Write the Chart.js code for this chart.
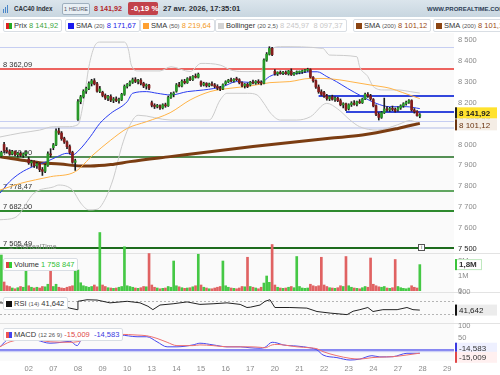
<!DOCTYPE html>
<html>
<head>
<meta charset="utf-8">
<script src="https://cdn.jsdelivr.net/npm/chart.js@4.4.1/dist/chart.umd.min.js"></script>
<style>
  body { margin: 0; background: #fff; font-family: "Liberation Sans", Arial, sans-serif; }
  #wrap { position: relative; width: 500px; height: 375px; overflow: hidden; background: #fff; }
  canvas { position: absolute; left: 0; }
  .abs { position: absolute; white-space: nowrap; }
  .panel { position: absolute; left: 0; width: 454px; background: #fafafa; }
  .sep { position: absolute; left: 0; width: 500px; height: 1px; background: #e3e3e3; }
  #hdr { position: absolute; left: 0; top: 0; width: 500px; height: 17px;
         background: linear-gradient(#dbe5ec, #c8d6e0); }
  #hdr .abs { top: 4px; font-size: 8px; line-height: 9px; color: #2b2f36; font-weight: bold; transform-origin: 0 0; }
  .box { position: absolute; height: 11px; line-height: 11px; font-size: 7.5px; color: #333;
         background: #fff; border: 1px solid #d9dee4; border-radius: 2px; padding: 0 3px 0 2px; white-space: nowrap; }
  .ico { display: inline-block; width: 6px; height: 6px; margin-right: 2px; vertical-align: -0.5px; }
  .sm { font-size: 6px; color: #555; }
</style>
</head>
<body>
<div id="wrap">
  <!-- panel backgrounds -->
  <div class="panel" style="top:33px;height:220px"></div>
  <div class="panel" style="top:254px;height:38px"></div>
  <div class="panel" style="top:293px;height:30px"></div>
  <div class="panel" style="top:324px;height:37px"></div>
  <div class="sep" style="top:253px"></div>
  <div class="sep" style="top:292px"></div>
  <div class="sep" style="top:323px"></div>

  <canvas id="cPrice" width="500" height="256" style="top:0"></canvas>
  <canvas id="cVol" width="500" height="96" style="top:200px"></canvas>
  <canvas id="cRsi" width="500" height="40" style="top:286px"></canvas>
  <canvas id="cMacd" width="500" height="57" style="top:318px"></canvas>

  <!-- header -->
  <div id="hdr">
    <div class="abs" style="left:3px;top:5px">
      <span style="display:inline-block;width:1px;height:4px;background:#4a86c8;margin-right:1px"></span><span style="display:inline-block;width:1px;height:6px;background:#4a86c8;margin-right:1px"></span><span style="display:inline-block;width:1px;height:8px;background:#4a86c8"></span>
    </div>
    <div class="abs" style="left:14px;transform:scaleX(0.78)">CAC40 Index</div>
    <div class="abs" style="left:62px;top:3px;height:10px;line-height:10px;width:24px;padding:0 1px;text-align:center;border:1px solid #9fb0bf;border-radius:2px;background:#e8eff4;font-weight:normal;font-size:5.5px;color:#556">1 HEURE</div>
    <div class="abs" style="left:94px;color:#b3262a;transform:scaleX(0.9)">8 141,92</div>
    <div class="abs" style="left:128px;top:2px;height:13px;line-height:13px;width:24px;padding:0 3px;text-align:center;background:#c2424a;color:#fff;border-radius:2px">-0,19 %</div>
    <div class="abs" style="left:163px;transform:scaleX(0.95)">27 avr. 2026, 17:35:01</div>
  </div>
  <div class="abs" style="left:427px;top:6px;font-size:6px;font-weight:bold;color:#2d3d55">WWW.PROREALTIME.COM</div>

  <!-- indicator legend row -->
  <div class="abs" style="left:0;top:17px;width:500px;height:16px;background:#fff"></div>
  <div class="box" style="left:3px;top:19px"><span class="ico" style="background:linear-gradient(90deg,#d22 50%,#2a2 50%)"></span>Prix <span style="color:#3aa53a">8 141,92</span></div>
  <div class="box" style="left:65px;top:19px"><span class="ico" style="background:#1a1aee"></span>SMA <span class="sm">(20)</span> <span style="color:#2323e6">8 171,67</span></div>
  <div class="box" style="left:140px;top:19px"><span class="ico" style="background:#ffa030"></span>SMA <span class="sm">(50)</span> <span style="color:#f39a1e">8 219,64</span></div>
  <div class="box" style="left:215px;top:19px"><span class="ico" style="background:#d4d4d4"></span>Bollinger <span class="sm">(20 2,5)</span> <span style="color:#c8c8c8">8 245,97 &nbsp;8 097,37</span></div>
  <div class="box" style="left:353px;top:19px"><span class="ico" style="background:#8b4513"></span>SMA <span class="sm">(200)</span> <span style="color:#9a4b16">8 101,12</span></div>
  <div class="box" style="left:433px;top:19px"><span class="ico" style="background:#8b4513"></span>SMA <span class="sm">(200)</span> <span style="color:#9a4b16">8 101,12</span></div>

  <!-- panel legends -->
  <div class="abs" style="left:8px;top:243px;font-size:7px;color:#888">&#x22A5; ProRealTime</div>
  <div class="abs" style="left:418px;top:244px;width:5px;height:5px;border:1px solid #555;background:#fff;font-size:5px;line-height:5px;text-align:center;color:#333">i</div>
  <div class="box" style="left:3px;top:258px"><span class="ico" style="background:linear-gradient(90deg,#d44 50%,#3c3 50%)"></span>Volume <span style="color:#35c035">1 758 847</span></div>
  <div class="box" style="left:3px;top:297px"><span class="ico" style="background:#111"></span>RSI <span class="sm">(14)</span> 41,642</div>
  <div class="box" style="left:3px;top:328px"><span class="ico" style="background:linear-gradient(90deg,#e55 50%,#44e 50%)"></span>MACD <span class="sm">(12 26 9)</span> <span style="color:#e04848">-15,009</span> &nbsp;<span style="color:#3a3ae0">-14,583</span></div>
</div>

<script>
// ---- data (hourly bars, 31 Mar 17:00 -> 27 Apr 17:00) ----
var open = [
  7945,
  8000, 7972, 7966, 7955, 7966, 7952, 7958, 7948, 7955,
  7930, 7912, 7918, 7898, 7908, 7880, 7872, 7900, 7955,
  7985, 7998, 8065, 8055, 8028, 8012, 7990, 7962, 7915,
  8120, 8205, 8228, 8255, 8268, 8292, 8305, 8290, 8255,
  8250, 8235, 8222, 8230, 8212, 8218, 8210, 8215, 8240,
  8278, 8288, 8298, 8310, 8302, 8308, 8292, 8280, 8284,
  8200, 8188, 8182, 8186, 8175, 8190, 8185, 8225, 8240,
  8255, 8285, 8280, 8302, 8296, 8315, 8310, 8326, 8322,
  8300, 8285, 8292, 8282, 8290, 8285, 8278, 8270, 8266,
  8290, 8300, 8308, 8304, 8312, 8310, 8296, 8282, 8288,
  8285, 8298, 8294, 8302, 8296, 8293, 8404, 8432, 8460,
  8350, 8338, 8345, 8340, 8346, 8338, 8352, 8334, 8342,
  8345, 8348, 8352, 8355, 8358, 8322, 8305, 8275, 8252,
  8248, 8232, 8220, 8228, 8216, 8222, 8210, 8190, 8195,
  8172, 8190, 8198, 8192, 8205, 8200, 8218, 8240, 8232,
  8215, 8185, 8145, 8130, 8152, 8170, 8165, 8172, 8168,
  8165, 8175, 8185, 8195, 8202, 8210, 8165, 8158, 8136
];
var high = [
  7968,
  8010, 7985, 7975, 7972, 7970, 7962, 7965, 7960, 7968,
  7940, 7925, 7922, 7915, 7912, 7890, 7905, 7965, 7980,
  8005, 8075, 8078, 8062, 8035, 8018, 7998, 7968, 7930,
  8215, 8235, 8262, 8275, 8300, 8312, 8315, 8298, 8278,
  8255, 8242, 8235, 8238, 8225, 8228, 8222, 8245, 8285,
  8292, 8305, 8318, 8320, 8312, 8315, 8298, 8290, 8288,
  8208, 8195, 8192, 8190, 8195, 8198, 8232, 8248, 8252,
  8292, 8298, 8310, 8312, 8320, 8325, 8330, 8338, 8342,
  8305, 8298, 8296, 8294, 8300, 8292, 8286, 8278, 8290,
  8305, 8312, 8318, 8316, 8322, 8315, 8300, 8292, 8294,
  8302, 8308, 8306, 8310, 8305, 8410, 8440, 8468, 8465,
  8358, 8348, 8352, 8350, 8352, 8355, 8362, 8345, 8352,
  8352, 8356, 8360, 8365, 8362, 8325, 8310, 8285, 8262,
  8255, 8240, 8232, 8236, 8228, 8226, 8218, 8200, 8198,
  8195, 8205, 8210, 8208, 8215, 8222, 8246, 8248, 8240,
  8220, 8190, 8152, 8158, 8222, 8182, 8178, 8184, 8175,
  8180, 8190, 8200, 8208, 8215, 8214, 8172, 8162, 8148
];
var low = [
  7940,
  7960, 7958, 7948, 7950, 7945, 7940, 7942, 7938, 7946,
  7905, 7895, 7890, 7885, 7870, 7852, 7865, 7895, 7940,
  7975, 7995, 8048, 8020, 8005, 7980, 7955, 7910, 7876,
  8115, 8195, 8222, 8245, 8262, 8280, 8285, 8250, 8248,
  8228, 8215, 8210, 8205, 8200, 8205, 8198, 8210, 8235,
  8270, 8280, 8292, 8296, 8290, 8285, 8272, 8265, 8262,
  8180, 8172, 8175, 8168, 8170, 8178, 8182, 8220, 8228,
  8250, 8275, 8276, 8290, 8292, 8305, 8306, 8318, 8318,
  8278, 8280, 8275, 8276, 8280, 8272, 8262, 8258, 8262,
  8285, 8296, 8300, 8298, 8305, 8290, 8275, 8270, 8272,
  8280, 8290, 8288, 8290, 8285, 8290, 8398, 8428, 8425,
  8332, 8330, 8336, 8334, 8335, 8332, 8330, 8330, 8336,
  8338, 8340, 8345, 8350, 8318, 8298, 8268, 8245, 8235,
  8225, 8212, 8210, 8212, 8206, 8205, 8185, 8175, 8162,
  8165, 8182, 8188, 8185, 8196, 8196, 8214, 8225, 8212,
  8180, 8138, 8117, 8125, 8148, 8160, 8158, 8162, 8155,
  8160, 8168, 8178, 8188, 8196, 8160, 8150, 8135, 8128
];
var close = [
  7962,
  7972, 7966, 7955, 7966, 7952, 7958, 7948, 7955, 7962,
  7912, 7918, 7898, 7908, 7880, 7872, 7900, 7955, 7950,
  7998, 8065, 8055, 8028, 8012, 7990, 7962, 7915, 7922,
  8205, 8228, 8255, 8268, 8292, 8305, 8290, 8255, 8266,
  8235, 8222, 8230, 8212, 8218, 8210, 8215, 8240, 8278,
  8288, 8298, 8310, 8302, 8308, 8292, 8280, 8284, 8270,
  8188, 8182, 8186, 8175, 8190, 8185, 8225, 8240, 8246,
  8285, 8280, 8302, 8296, 8315, 8310, 8326, 8322, 8336,
  8285, 8292, 8282, 8290, 8285, 8278, 8270, 8266, 8286,
  8300, 8308, 8304, 8312, 8310, 8296, 8282, 8288, 8278,
  8298, 8294, 8302, 8296, 8293, 8404, 8432, 8460, 8430,
  8338, 8345, 8340, 8346, 8338, 8352, 8334, 8342, 8348,
  8348, 8352, 8355, 8358, 8322, 8305, 8275, 8252, 8240,
  8232, 8220, 8228, 8216, 8222, 8210, 8190, 8195, 8168,
  8190, 8198, 8192, 8205, 8200, 8218, 8240, 8232, 8218,
  8185, 8145, 8130, 8152, 8170, 8165, 8172, 8168, 8160,
  8175, 8185, 8195, 8202, 8210, 8165, 8158, 8138, 8141.92
];
// volume in millions
var volume = [
  2.4,
  0.6, 0.35, 0.3, 0.2, 0.15, 0.22, 0.3, 0.25, 1.6,
  0.35, 0.25, 0.2, 0.25, 0.2, 0.3, 0.28, 0.45, 1.4,
  0.3, 0.45, 0.25, 0.2, 0.18, 0.25, 0.3, 0.35, 1.4,
  1.4, 0.55, 0.35, 0.3, 0.25, 0.3, 0.4, 0.28, 3.9,
  0.4, 0.3, 0.22, 0.2, 0.18, 0.2, 0.25, 0.3, 2.95,
  0.35, 0.3, 0.25, 0.2, 0.18, 0.22, 0.3, 0.28, 2.5,
  0.4, 0.25, 0.2, 0.15, 0.18, 0.2, 0.3, 0.25, 2.0,
  0.35, 0.28, 0.22, 0.18, 0.2, 0.22, 0.28, 0.35, 2.45,
  0.4, 0.25, 0.2, 0.15, 0.15, 0.2, 0.25, 0.3, 2.0,
  0.35, 0.25, 0.2, 0.18, 0.15, 0.2, 0.3, 0.28, 2.25,
  0.3, 0.25, 0.2, 0.15, 0.25, 0.53, 1.0, 0.58, 3.1,
  0.4, 0.25, 0.2, 0.18, 0.2, 0.25, 0.3, 0.22, 2.3,
  0.3, 0.2, 0.18, 0.2, 0.45, 0.35, 0.3, 0.35, 2.25,
  0.4, 0.3, 0.22, 0.2, 0.18, 0.22, 0.35, 0.3, 2.3,
  0.35, 0.25, 0.2, 0.18, 0.15, 0.22, 0.3, 0.25, 2.2,
  0.45, 0.35, 0.28, 0.25, 0.3, 0.2, 0.18, 0.22, 2.1,
  0.3, 0.22, 0.18, 0.15, 0.2, 0.35, 0.25, 0.2, 1.76
];

// indicator curves as [bar index, value]
var sma20 = [[-0.5, 7767], [3, 7822], [7, 7864], [11.5, 7894], [16.5, 7918], [20.5, 7942], [24, 7958], [26, 7950],
  [28.5, 7974], [32.5, 8037], [36, 8101], [40, 8149], [46, 8205], [48, 8245], [53, 8253], [57, 8245], [62, 8237],
  [68, 8253], [74, 8261], [81, 8277], [86, 8301], [91, 8297], [95, 8297], [98, 8325], [102, 8340], [108, 8340],
  [113, 8348], [115.5, 8348], [119, 8325], [122.5, 8301], [126.5, 8269], [132, 8229], [137, 8197], [142, 8181],
  [148, 8181], [153, 8171.67]];
var sma50 = [[-0.5, 7782], [7, 7814], [18, 7846], [27, 7870], [33.5, 7950], [40, 8021], [46, 8077], [53, 8109],
  [61.7, 8152], [69, 8213], [76.3, 8253], [83.6, 8269], [91, 8280], [98.2, 8296], [105.5, 8301], [112.8, 8316],
  [117.6, 8316], [123.8, 8309], [127.5, 8301], [134.8, 8285], [142.1, 8269], [146.8, 8248], [153, 8219.64]];
var sma200 = [[-0.5, 7942], [7, 7926], [14, 7913], [21.5, 7907], [29, 7897], [32.5, 7897], [40, 7904], [47, 7918],
  [61.7, 7942], [92, 7990], [120, 8030], [132, 8045], [145, 8077], [153, 8101.12]];
var bollUp = [[-0.5, 8036], [7, 8055], [14, 8069], [19, 8085], [24, 8085], [28, 8095], [30, 8200], [32, 8372],
  [34, 8468], [36, 8490], [45, 8490], [46.5, 8452], [47.5, 8380], [50, 8352], [58, 8352], [62, 8372], [69, 8349],
  [73, 8388], [80, 8380], [84, 8356], [88, 8349], [95, 8349], [96, 8388], [98.5, 8452], [102, 8468], [117.5, 8460],
  [120, 8428], [130, 8420], [131, 8372], [134, 8325], [136, 8277], [140, 8261], [145, 8261], [149.5, 8253], [153, 8245.97]];
var bollDn = [[-0.5, 7640], [5, 7650], [12, 7768], [19, 7797], [21, 7806], [26, 7782], [29, 7720], [32, 7687],
  [35, 7690], [38, 7740], [41, 7840], [44, 7990], [46.5, 8080], [50, 8140], [62, 8117], [76, 8117], [80, 8213],
  [82.5, 8245], [90, 8245], [93.5, 8237], [96, 8197], [98.5, 8149], [102, 8117], [108, 8117], [113, 8133],
  [119, 8197], [123, 8170], [127.5, 8117], [131, 8085], [137.5, 8069], [145, 8095], [149.5, 8115], [153, 8097.37]];
var rsi = [[-0.5, 65], [22.5, 54], [25, 48], [27.7, 43], [28, 70], [31.3, 75], [35, 74], [39.7, 65], [46, 70],
  [50.7, 65], [53.6, 54], [55.4, 43], [58, 58], [62.8, 62], [67.9, 68], [72.6, 60], [77.4, 62], [82.5, 65],
  [87.3, 60], [89.8, 50], [91, 51], [94.6, 58], [96.4, 70], [98.2, 75], [100, 50], [105.5, 50], [111.7, 48],
  [115.4, 37], [120.2, 32], [126.4, 27], [128.6, 38], [131.1, 43], [134, 50], [135.9, 37], [139.5, 43],
  [144.7, 43], [148.3, 50], [150.5, 43], [153, 41.642]];
var macd = [[-0.5, 12], [3.2, 47], [10.5, 47], [13, 40], [17.8, 27], [21.4, 30], [25.1, 35], [27.7, 17], [29.5, 48],
  [31.3, 61], [43.4, 61], [49.6, 54], [53.2, 54], [56.9, 33], [60.6, 12], [64.2, 12], [70.1, 20], [72.6, 27],
  [77.4, 20], [82.5, 12], [87.3, 12], [90.9, 8], [94.6, 6], [96.4, 10], [99, 31], [100.8, 28], [103, 20],
  [108.1, 15], [112.8, 8], [115.4, -1], [117.6, -22], [122.7, -33], [127.5, -43], [131.1, -39], [135.5, -25],
  [138.4, -30], [143.2, -29], [148.3, -15], [152, -15], [153, -14.583]];
var signal = [[-0.5, 12], [3.2, 33], [10.5, 45], [17.8, 33], [25.1, 31], [27.7, 33], [31.3, 45], [43.4, 64],
  [49.6, 61], [53.2, 58], [56.9, 47], [60.6, 31], [64.2, 17], [70.1, 17], [72.6, 20], [77.4, 17], [82.5, 12],
  [87.3, 12], [90.9, 12], [94.6, 10], [96.4, 8], [99, 20], [100.8, 22], [103, 20], [108.1, 12], [112.8, 8],
  [115.4, 4], [117.6, -8], [122.7, -25], [127.5, -36], [131.1, -39], [135.5, -33], [138.4, -31], [143.2, -29],
  [148.3, -22], [152, -16], [153, -15.009]];

// day labels along the bottom, at the first bar of each session
var dayTicks = [10, 19, 28, 37, 46, 55, 64, 73, 82, 91, 100, 109, 118, 127, 136, 145, 154, 163];
var dayLabels = ['02', '07', '08', '09', '10', '13', '14', '15', '16', '17', '20', '21', '22', '23', '24', '27', '28', '29'];

// horizontal price levels drawn on the chart
var levelValues = [8468, 8362.09, 8232, 8157, 8112, 8077, 7940, 7778.47, 7682, 7505.49];
var levelLabels = ['', '8 362,09', '', '', '', '', '7 940,00', '7 778,47', '7 682,00', '7 505,49'];

// ---- styles ----
var levelStyles = [
  { color: '#c6cef2', width: 1 },
  { color: '#e8312b', width: 1.5 },
  { color: '#3346dc', width: 2, from: 116 },
  { color: '#3346dc', width: 2, from: 126 },
  { color: '#c6cef2', width: 1 },
  { color: '#d6dbf0', width: 2 },
  { color: '#1d6b1d', width: 1.5 },
  { color: '#2e8a2e', width: 1.5 },
  { color: '#2e8a2e', width: 2 },
  { color: '#1d6b1d', width: 2 }
];
var UP = '#2a9a2a', DOWN = '#851c1c';
var AXIS_W = 46;
var FONT = '"Liberation Sans", Arial, sans-serif';

Chart.defaults.font.family = FONT;
Chart.defaults.font.size = 7.5;
Chart.defaults.color = '#8a8a8a';
Chart.defaults.animation = false;

function fmt(v) {
  return String(v).replace(/\B(?=(\d{3})+(?!\d))/g, ' ');
}
function pts(arr) {
  return arr.map(function (p) { return { x: p[0], y: p[1] }; });
}
function xScale(show) {
  return {
    type: 'linear', min: -0.5, max: 165.5, offset: false, display: show,
    grid: { display: false, offset: false, drawTicks: false }, border: { display: false },
    afterBuildTicks: function (s) { s.ticks = dayTicks.map(function (v) { return { value: v }; }); },
    afterFit: function (s) {
      if (show) s.height = 14;
      s.paddingLeft = 0; s.paddingRight = 0;
    },
    ticks: {
      autoSkip: false, maxRotation: 0, padding: 3, color: '#8a8a8a',
      callback: function (v, i) { return dayLabels[i]; }
    }
  };
}
function yScale(min, max, tickList, cb, darkTick) {
  return {
    type: 'linear', position: 'right', min: min, max: max,
    grid: { display: false, drawTicks: false }, border: { display: false },
    afterFit: function (s) {
      // fixed axis column, and no extra room above/below for labels
      s.width = AXIS_W;
      s.paddingTop = 0; s.paddingBottom = 0;
    },
    afterBuildTicks: function (s) { s.ticks = tickList.map(function (v) { return { value: v }; }); },
    ticks: {
      padding: 4, callback: cb,
      color: function (c) { return c.tick && c.tick.value === darkTick ? '#222' : '#8a8a8a'; }
    }
  };
}
function baseOptions(xs, ys, pad) {
  return {
    responsive: false, devicePixelRatio: 1, events: [],
    layout: { autoPadding: false, padding: pad || 0 },
    plugins: { legend: { display: false }, tooltip: { enabled: false } },
    scales: { x: xs, y: ys }
  };
}
function badge(ctx, y, text, bg, bar, fg, bold) {
  ctx.save();
  ctx.fillStyle = bg;
  ctx.fillRect(455, y - 5.5, 42, 11);
  ctx.fillStyle = bar;
  ctx.fillRect(455, y - 5.5, 2, 11);
  ctx.font = (bold ? 'bold ' : '') + '8px ' + FONT;
  ctx.fillStyle = fg;
  ctx.textBaseline = 'middle';
  ctx.fillText(text, 459, y + 0.5);
  ctx.restore();
}

// ---- price panel ----
var priceTicks = [7500, 7600, 7700, 7800, 7900, 8000, 8100, 8200, 8300, 8400, 8500, 8600];

var levelsPlugin = {
  id: 'levels',
  beforeDatasetsDraw: function (chart) {
    var ctx = chart.ctx, a = chart.chartArea, x = chart.scales.x, y = chart.scales.y;
    ctx.save();
    levelValues.forEach(function (v, i) {
      var st = levelStyles[i];
      var py = Math.round(y.getPixelForValue(v)) + (st.width === 1 ? 0.5 : 0);
      var x0 = st.from !== undefined ? x.getPixelForValue(st.from) : a.left;
      ctx.strokeStyle = st.color;
      ctx.lineWidth = st.width;
      ctx.beginPath();
      ctx.moveTo(x0, py);
      ctx.lineTo(a.right, py);
      ctx.stroke();
      if (levelLabels[i]) {
        ctx.font = '7.5px ' + FONT;
        ctx.fillStyle = '#333';
        ctx.textBaseline = 'alphabetic';
        ctx.fillText(levelLabels[i], 3, py - 2.5);
      }
    });
    ctx.restore();
  },
  afterDraw: function (chart) {
    var ctx = chart.ctx, y = chart.scales.y;
    var yl = y.getPixelForValue(close[close.length - 1]) - 2;
    badge(ctx, yl + 7, '8 097,37', '#f4f4f4', '#ccc', '#c4c4c4', false);
    badge(ctx, yl + 12, '8 101,12', '#f4ede5', '#6b3410', '#6b3410', false);
    badge(ctx, yl, '8 141,92', '#ffe22e', '#222', '#1a1a1a', true);
  }
};

new Chart(document.getElementById('cPrice'), {
  type: 'bar',
  data: {
    datasets: [
      { type: 'line', data: pts(bollUp), borderColor: '#cbcbcb', borderWidth: 1, pointRadius: 0, cubicInterpolationMode: 'monotone', order: 5 },
      { type: 'line', data: pts(bollDn), borderColor: '#cbcbcb', borderWidth: 1, pointRadius: 0, cubicInterpolationMode: 'monotone', order: 5 },
      { type: 'line', data: pts(sma200), borderColor: '#7b3d12', borderWidth: 3, pointRadius: 0, cubicInterpolationMode: 'monotone', order: 4 },
      { type: 'line', data: pts(sma50), borderColor: '#ffb347', borderWidth: 1, pointRadius: 0, cubicInterpolationMode: 'monotone', order: 3 },
      { type: 'line', data: pts(sma20), borderColor: '#2a3cf0', borderWidth: 1, pointRadius: 0, cubicInterpolationMode: 'monotone', order: 3 },
      {
        data: close.map(function (c, i) { return { x: i, y: [low[i], high[i]] }; }),
        backgroundColor: '#1c1c1c', barThickness: 1, grouped: false, order: 2
      },
      {
        data: close.map(function (c, i) { return { x: i, y: [open[i], c] }; }),
        backgroundColor: close.map(function (c, i) { return c >= open[i] ? UP : DOWN; }),
        barThickness: 2, minBarLength: 1, grouped: false, order: 1
      }
    ]
  },
  options: baseOptions(xScale(false), yScale(7466.5, 8691.4, priceTicks, fmt, 7500)),
  plugins: [levelsPlugin]
});

// ---- volume panel ----
new Chart(document.getElementById('cVol'), {
  type: 'bar',
  data: {
    datasets: [{
      data: volume.map(function (v, i) { return { x: i, y: v }; }),
      backgroundColor: close.map(function (c, i) { return c >= open[i] ? '#45c845' : '#e06262'; }),
      barThickness: 2, grouped: false
    }]
  },
  options: baseOptions(xScale(false), yScale(0, 6.07, [0, 1, 2], function (v) { return v === 0 ? '0' : v + 'M'; }), { bottom: 5 }),
  plugins: [{
    id: 'volBadge',
    afterDraw: function (chart) {
      var ctx = chart.ctx;
      var py = chart.scales.y.getPixelForValue(volume[volume.length - 1]);
      ctx.save();
      ctx.fillStyle = '#fff';
      ctx.strokeStyle = '#bfe8bf';
      ctx.fillRect(455, py - 5.5, 27, 11);
      ctx.strokeRect(455.5, py - 5, 26, 10);
      ctx.fillStyle = '#3bc43b';
      ctx.fillRect(455, py - 5.5, 2, 11);
      ctx.font = 'bold 8px ' + FONT;
      ctx.fillStyle = '#333';
      ctx.textBaseline = 'middle';
      ctx.fillText('1,8M', 459, py + 0.5);
      ctx.restore();
    }
  }]
});

// ---- RSI panel ----
new Chart(document.getElementById('cRsi'), {
  type: 'line',
  data: {
    datasets: [{ data: pts(rsi), borderColor: '#222', borderWidth: 1, pointRadius: 0 }]
  },
  options: baseOptions(xScale(false), yScale(0, 100, [100], function (v) { return String(v); }), { top: 6, bottom: 3 }),
  plugins: [{
    id: 'rsiGuides',
    beforeDatasetsDraw: function (chart) {
      var ctx = chart.ctx, a = chart.chartArea, y = chart.scales.y;
      ctx.save();
      ctx.strokeStyle = '#b5b5b5';
      ctx.setLineDash([2, 2]);
      [70, 30].forEach(function (v) {
        var py = Math.round(y.getPixelForValue(v)) + 0.5;
        ctx.beginPath();
        ctx.moveTo(a.left, py);
        ctx.lineTo(a.right, py);
        ctx.stroke();
      });
      ctx.restore();
    },
    afterDraw: function (chart) {
      var py = chart.scales.y.getPixelForValue(rsi[rsi.length - 1][1]);
      badge(chart.ctx, py, '41,642', '#ececec', '#111', '#222', false);
    }
  }]
});

// ---- MACD panel ----
new Chart(document.getElementById('cMacd'), {
  type: 'line',
  data: {
    datasets: [
      { data: pts(signal), borderColor: '#ee7070', borderWidth: 1, pointRadius: 0, cubicInterpolationMode: 'monotone' },
      { data: pts(macd), borderColor: '#4747ee', borderWidth: 1, pointRadius: 0, cubicInterpolationMode: 'monotone' }
    ]
  },
  options: baseOptions(xScale(true), yScale(-47.1, 111.25, [50, 100], function (v) { return String(v); }), { top: 5 }),
  plugins: [{
    id: 'macdZero',
    beforeDatasetsDraw: function (chart) {
      var ctx = chart.ctx, a = chart.chartArea;
      var py = chart.scales.y.getPixelForValue(0);
      ctx.save();
      ctx.fillStyle = '#cdd0f6';
      ctx.fillRect(a.left, py, a.right - a.left, 2.5);
      ctx.fillStyle = '#6f6ff0';
      ctx.fillRect(a.left, py - 0.5, a.right - a.left, 1.5);
      ctx.restore();
    },
    afterDraw: function (chart) {
      var y = chart.scales.y;
      badge(chart.ctx, y.getPixelForValue(macd[macd.length - 1][1]) - 5, '-14,583', '#eef0ff', '#3a3ae0', '#333', false);
      badge(chart.ctx, y.getPixelForValue(signal[signal.length - 1][1]) + 4, '-15,009', '#fff0f0', '#e04848', '#333', false);
    }
  }]
});
</script>
</body>
</html>
